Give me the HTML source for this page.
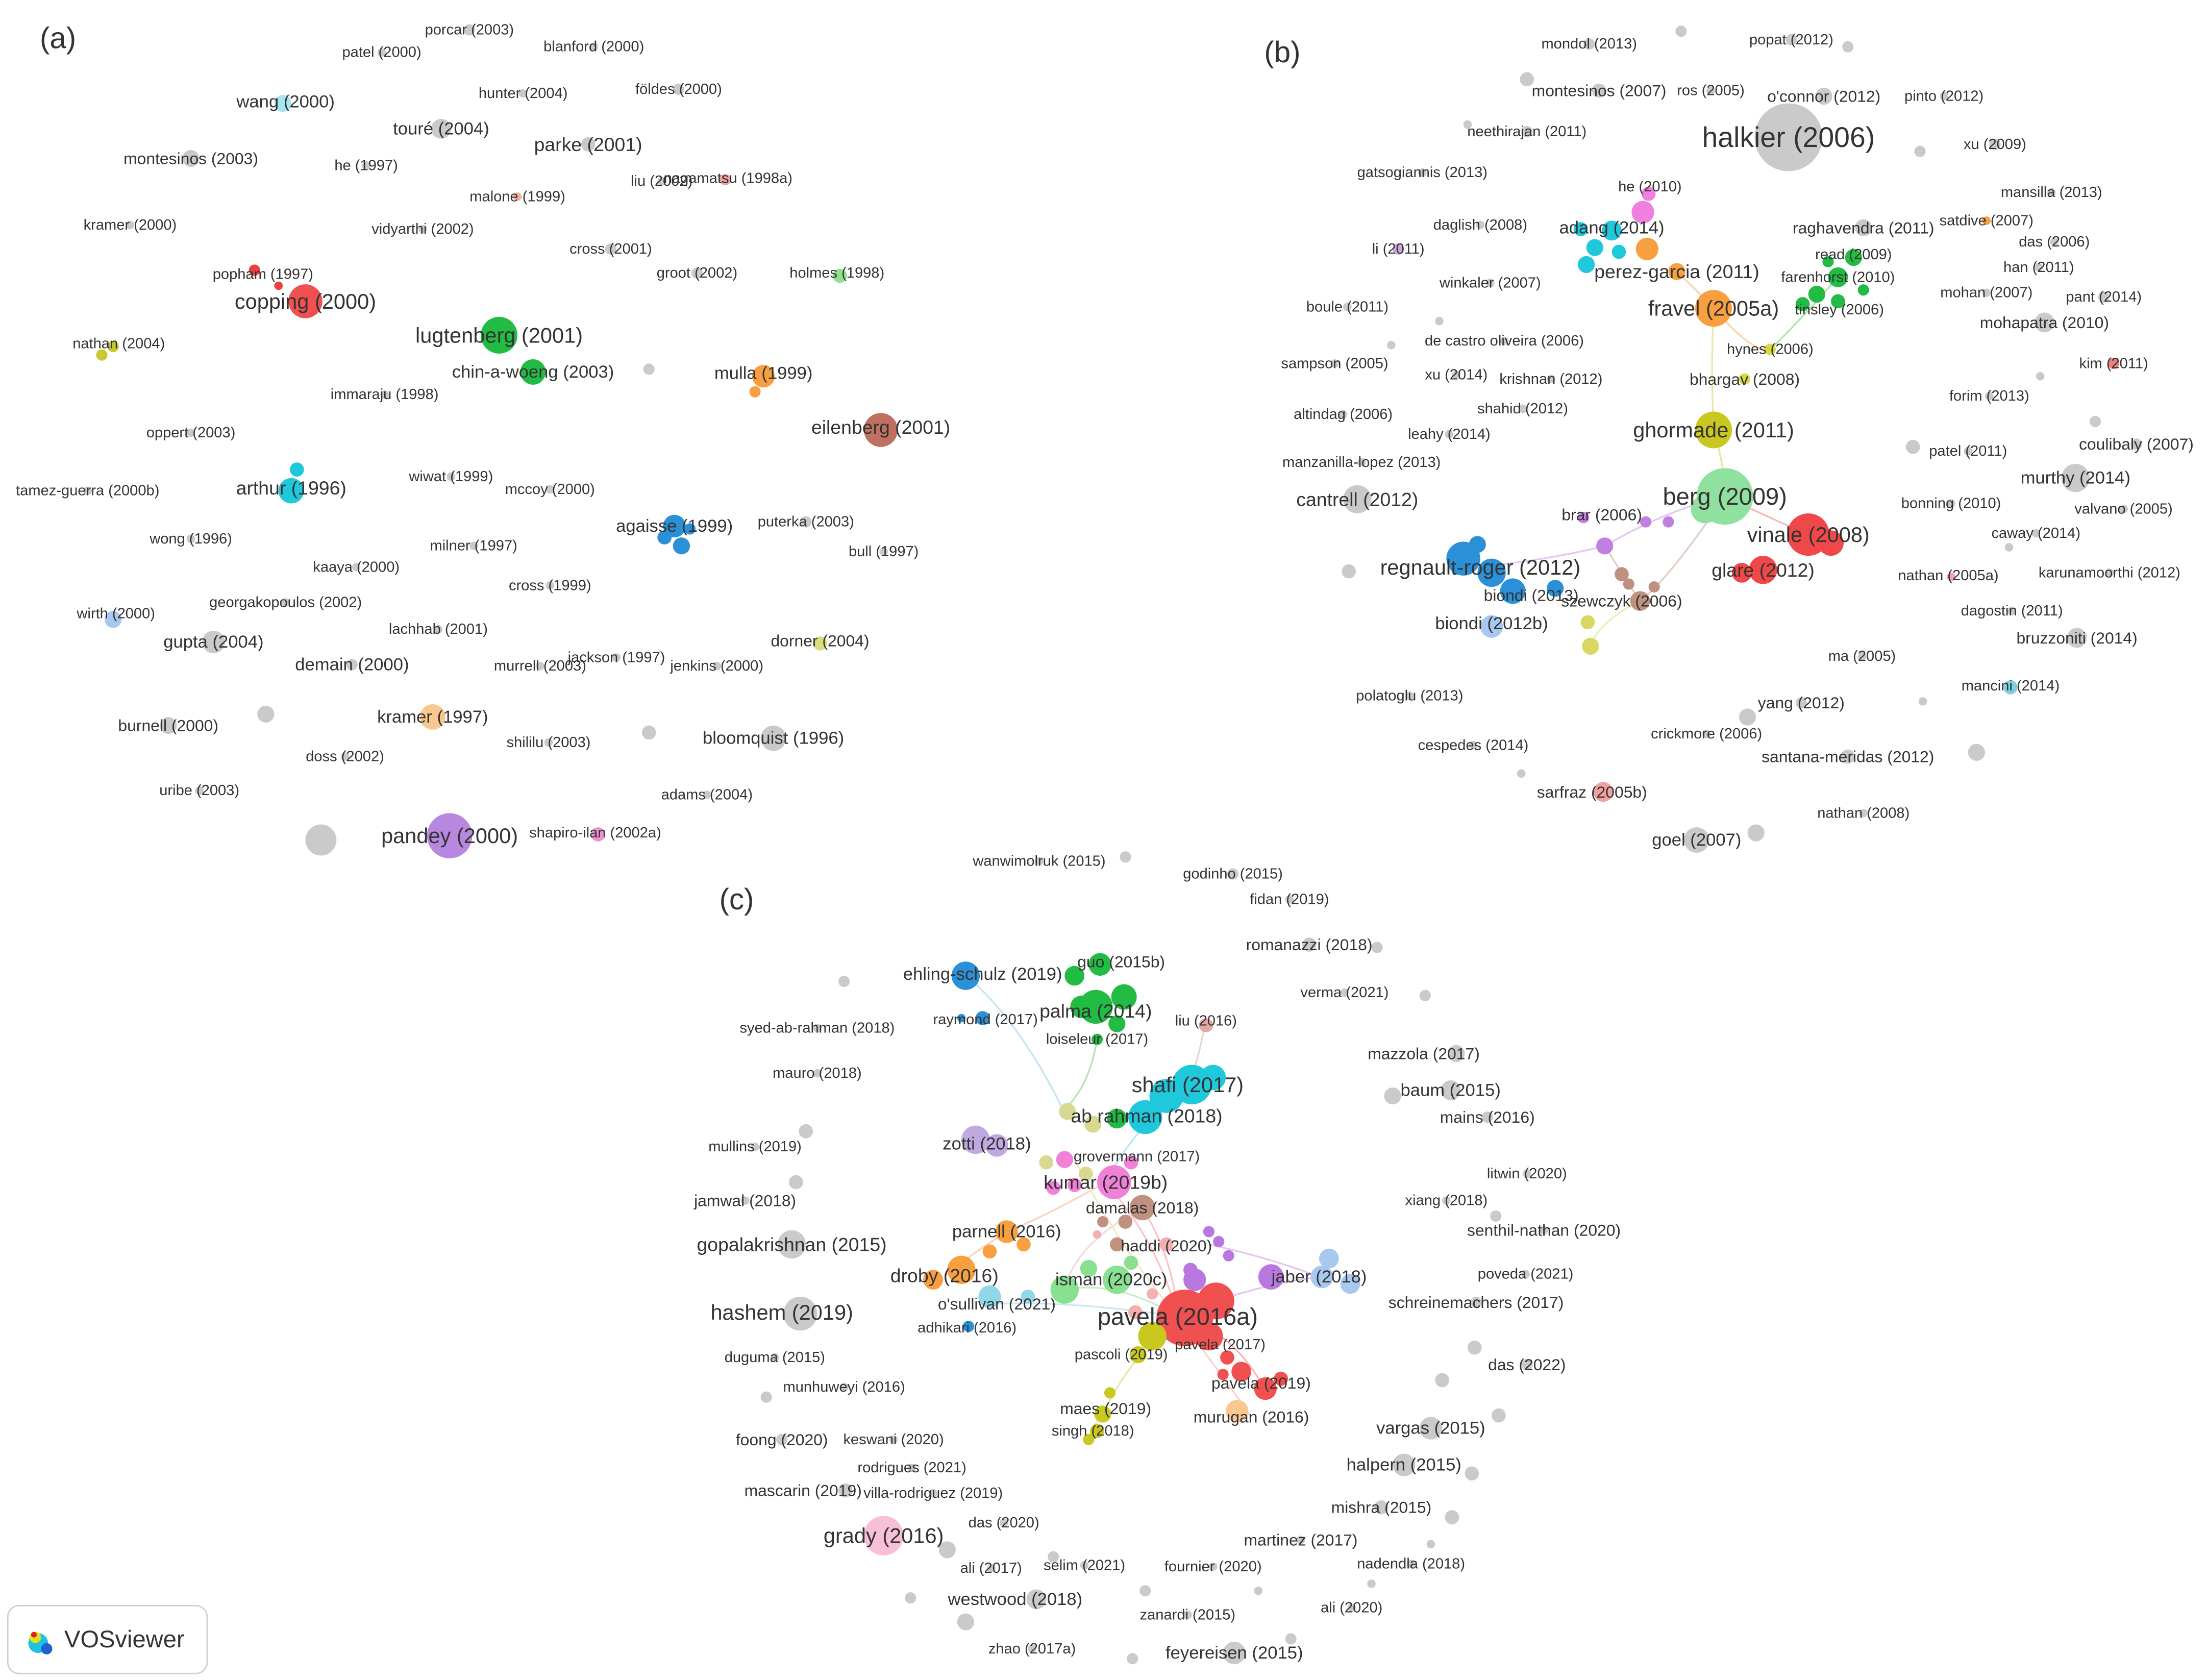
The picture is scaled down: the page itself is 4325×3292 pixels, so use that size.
<!DOCTYPE html>
<html><head><meta charset="utf-8"><style>
html,body{margin:0;padding:0;background:#fff;width:4325px;height:3292px;overflow:hidden}
svg{display:block}
text{font-family:"Liberation Sans",sans-serif;fill:#333;text-anchor:middle;dominant-baseline:central}
</style></head><body>
<svg width="4325" height="3292" viewBox="0 0 1561 1188" xmlns="http://www.w3.org/2000/svg">
<g fill="none" stroke-width="1.2" opacity="0.45">
<path d="M1212,304 Q1220,330 1220,351" stroke="#c8c820"/>
<path d="M1212,218 Q1240,250 1252,247" stroke="#f4a040"/>
<path d="M1212,218 Q1210,260 1212,304" stroke="#d8c840"/>
<path d="M1186,192 Q1200,205 1212,218" stroke="#f4a040"/>
<path d="M1300,196 Q1270,230 1252,247" stroke="#50c050"/>
<path d="M1220,351 Q1180,360 1135,386" stroke="#c080e0"/>
<path d="M1220,351 Q1260,370 1279,378" stroke="#f06060"/>
<path d="M1135,386 Q1100,395 1047,401" stroke="#c080e0"/>
<path d="M1135,386 Q1150,410 1160,425" stroke="#c09080"/>
<path d="M1220,351 Q1180,410 1160,425" stroke="#c09080"/>
<path d="M1160,425 Q1130,440 1125,457" stroke="#d8d860"/>
<path d="M683,690 Q720,720 752,785" stroke="#80c0e0"/>
<path d="M776,735 Q770,770 752,785" stroke="#60c060"/>
<path d="M853,722 Q845,760 840,767" stroke="#d0a090"/>
<path d="M840,767 Q800,800 782,836" stroke="#60d0e0"/>
<path d="M782,836 Q740,860 712,871" stroke="#f0a080"/>
<path d="M712,871 Q690,885 668,902" stroke="#f0a060"/>
<path d="M808,854 Q830,890 833,931" stroke="#f08080"/>
<path d="M782,836 Q820,880 833,931" stroke="#f08080"/>
<path d="M833,931 Q870,940 892,978" stroke="#f06060"/>
<path d="M833,931 Q880,910 933,903" stroke="#c080e0"/>
<path d="M855,880 Q900,890 933,903" stroke="#c080e0"/>
<path d="M833,931 Q800,960 782,996" stroke="#c8c840"/>
<path d="M782,996 Q775,1005 773,1012" stroke="#c8c840"/>
<path d="M705,922 Q760,920 833,931" stroke="#80d0e0"/>
<path d="M753,912 Q790,905 833,931" stroke="#80e080"/>
<path d="M760,820 Q790,880 833,931" stroke="#e0d080"/>
<path d="M833,931 Q870,980 885,1002" stroke="#f0a0a0"/>
<path d="M808,854 Q760,880 753,912" stroke="#e0b0b0"/>
</g>
<!-- gray nodes -->
<g fill="#cacaca">
<circle cx="332" cy="21" r="4"/><circle cx="270" cy="37" r="3"/><circle cx="420" cy="33" r="3"/><circle cx="370" cy="66" r="3"/><circle cx="480" cy="63" r="4"/><circle cx="312" cy="91" r="7"/><circle cx="416" cy="102" r="5"/><circle cx="135" cy="112" r="6"/><circle cx="259" cy="117" r="3"/><circle cx="468" cy="128" r="3"/><circle cx="92" cy="159" r="3"/><circle cx="299" cy="162" r="3"/><circle cx="432" cy="176" r="4"/><circle cx="493" cy="193" r="4"/><circle cx="272" cy="279" r="3"/><circle cx="135" cy="306" r="3"/><circle cx="319" cy="337" r="3"/><circle cx="389" cy="346" r="3"/><circle cx="62" cy="347" r="3"/><circle cx="570" cy="369" r="4"/><circle cx="335" cy="386" r="3"/><circle cx="135" cy="381" r="3"/><circle cx="625" cy="390" r="3"/><circle cx="252" cy="401" r="3"/><circle cx="389" cy="414" r="3"/><circle cx="202" cy="426" r="3"/><circle cx="310" cy="445" r="3"/><circle cx="151" cy="454" r="8"/><circle cx="249" cy="470" r="4"/><circle cx="382" cy="471" r="3"/><circle cx="436" cy="465" r="3"/><circle cx="507" cy="471" r="3"/><circle cx="119" cy="513" r="6"/><circle cx="388" cy="525" r="3"/><circle cx="547" cy="522" r="9"/><circle cx="244" cy="535" r="3"/><circle cx="141" cy="559" r="3"/><circle cx="500" cy="562" r="3"/>
<circle cx="188" cy="505" r="6"/><circle cx="459" cy="261" r="4"/><circle cx="459" cy="518" r="5"/><circle cx="227" cy="594" r="11"/>
<circle cx="1124" cy="31" r="4"/><circle cx="1267" cy="28" r="4"/><circle cx="1131" cy="64" r="5"/><circle cx="1210" cy="64" r="3"/><circle cx="1290" cy="68" r="6"/><circle cx="1375" cy="68" r="3"/><circle cx="1265" cy="97" r="24"/><circle cx="1080" cy="93" r="4"/><circle cx="1411" cy="102" r="4"/><circle cx="1006" cy="122" r="3"/><circle cx="1451" cy="136" r="3"/><circle cx="1047" cy="159" r="3"/><circle cx="1318" cy="161" r="6"/><circle cx="1453" cy="171" r="3"/><circle cx="1442" cy="189" r="3"/><circle cx="1054" cy="200" r="3"/><circle cx="1405" cy="207" r="3"/><circle cx="1488" cy="210" r="4"/><circle cx="953" cy="217" r="3"/><circle cx="1446" cy="228" r="7"/><circle cx="1064" cy="241" r="3"/><circle cx="944" cy="257" r="3"/><circle cx="1030" cy="265" r="3"/><circle cx="1097" cy="268" r="3"/><circle cx="1407" cy="280" r="3"/><circle cx="1077" cy="289" r="3"/><circle cx="950" cy="293" r="3"/><circle cx="1511" cy="314" r="4"/><circle cx="1025" cy="307" r="3"/><circle cx="1392" cy="319" r="3"/><circle cx="963" cy="327" r="3"/><circle cx="1468" cy="338" r="10"/><circle cx="960" cy="353" r="10"/><circle cx="1380" cy="356" r="3"/><circle cx="1502" cy="360" r="3"/><circle cx="1440" cy="377" r="3"/><circle cx="1492" cy="405" r="3"/><circle cx="1423" cy="432" r="3"/><circle cx="1469" cy="451" r="7"/><circle cx="1317" cy="464" r="3"/><circle cx="997" cy="492" r="3"/><circle cx="1274" cy="497" r="4"/><circle cx="1207" cy="519" r="3"/><circle cx="1042" cy="527" r="3"/><circle cx="1307" cy="535" r="5"/><circle cx="1318" cy="575" r="3"/><circle cx="1200" cy="594" r="9"/>
<circle cx="1189" cy="22" r="4"/><circle cx="1307" cy="33" r="4"/><circle cx="1080" cy="56" r="5"/><circle cx="1358" cy="107" r="4"/><circle cx="1038" cy="88" r="3"/><circle cx="1018" cy="227" r="3"/><circle cx="984" cy="244" r="3"/><circle cx="1482" cy="298" r="4"/><circle cx="1353" cy="316" r="5"/><circle cx="954" cy="404" r="5"/><circle cx="1398" cy="532" r="6"/><circle cx="1242" cy="589" r="6"/><circle cx="1236" cy="507" r="6"/><circle cx="1443" cy="266" r="3"/><circle cx="1421" cy="387" r="3"/><circle cx="1360" cy="496" r="3"/><circle cx="1076" cy="547" r="3"/>
<circle cx="735" cy="609" r="3"/><circle cx="872" cy="618" r="4"/><circle cx="912" cy="636" r="3"/><circle cx="926" cy="668" r="5"/><circle cx="951" cy="702" r="3"/><circle cx="578" cy="727" r="3"/><circle cx="1030" cy="745" r="6"/><circle cx="578" cy="759" r="3"/><circle cx="1026" cy="771" r="7"/><circle cx="1052" cy="790" r="4"/><circle cx="534" cy="811" r="3"/><circle cx="1080" cy="830" r="3"/><circle cx="527" cy="849" r="3"/><circle cx="1023" cy="849" r="3"/><circle cx="1092" cy="870" r="3"/><circle cx="560" cy="880" r="10"/><circle cx="1079" cy="901" r="3"/><circle cx="1044" cy="921" r="4"/><circle cx="566" cy="929" r="12"/><circle cx="548" cy="960" r="3"/><circle cx="1080" cy="965" r="4"/><circle cx="597" cy="981" r="3"/><circle cx="1012" cy="1010" r="8"/><circle cx="553" cy="1018" r="4"/><circle cx="632" cy="1018" r="3"/><circle cx="993" cy="1036" r="8"/><circle cx="645" cy="1038" r="3"/><circle cx="598" cy="1054" r="5"/><circle cx="660" cy="1056" r="3"/><circle cx="977" cy="1066" r="5"/><circle cx="710" cy="1077" r="3"/><circle cx="920" cy="1089" r="3"/><circle cx="701" cy="1109" r="3"/><circle cx="767" cy="1107" r="3"/><circle cx="858" cy="1108" r="3"/><circle cx="998" cy="1106" r="3"/><circle cx="733" cy="1131" r="7"/><circle cx="956" cy="1137" r="3"/><circle cx="840" cy="1142" r="3"/><circle cx="730" cy="1166" r="3"/><circle cx="873" cy="1169" r="8"/>
<circle cx="796" cy="606" r="4"/><circle cx="974" cy="670" r="4"/><circle cx="1008" cy="704" r="4"/><circle cx="597" cy="694" r="4"/><circle cx="570" cy="800" r="5"/><circle cx="563" cy="836" r="5"/><circle cx="985" cy="775" r="6"/><circle cx="1058" cy="860" r="4"/><circle cx="1043" cy="953" r="5"/><circle cx="1020" cy="976" r="5"/><circle cx="1060" cy="1001" r="5"/><circle cx="1041" cy="1042" r="5"/><circle cx="1027" cy="1073" r="5"/><circle cx="1012" cy="1092" r="3"/><circle cx="542" cy="988" r="4"/><circle cx="644" cy="1130" r="4"/><circle cx="670" cy="1096" r="6"/><circle cx="683" cy="1147" r="6"/><circle cx="745" cy="1101" r="4"/><circle cx="801" cy="1173" r="4"/><circle cx="913" cy="1159" r="4"/><circle cx="810" cy="1125" r="4"/><circle cx="890" cy="1125" r="3"/><circle cx="970" cy="1120" r="3"/>
</g>
<!-- colored nodes -->
<g>
<circle cx="200" cy="73" r="6" fill="#a8e4f0"/><circle cx="513" cy="127" r="4" fill="#f4a0a0"/><circle cx="366" cy="139" r="3" fill="#f4b0a0"/>
<circle cx="180" cy="191" r="4" fill="#ee4040"/><circle cx="197" cy="202" r="3" fill="#ee4040"/><circle cx="216" cy="213" r="12" fill="#f05050"/>
<circle cx="353" cy="237" r="13" fill="#22bb44"/><circle cx="377" cy="263" r="9" fill="#22bb44"/><circle cx="594" cy="195" r="5" fill="#90e090"/>
<circle cx="72" cy="251" r="4" fill="#c8c830"/><circle cx="80" cy="245" r="4" fill="#c8c830"/>
<circle cx="540" cy="266" r="8" fill="#f8a040"/><circle cx="534" cy="277" r="4" fill="#f8a040"/>
<circle cx="623" cy="304" r="12" fill="#c07060"/>
<circle cx="206" cy="347" r="9" fill="#20c8dc"/><circle cx="210" cy="332" r="5" fill="#20c8dc"/>
<circle cx="477" cy="372" r="8" fill="#2a90d8"/><circle cx="482" cy="386" r="6" fill="#2a90d8"/><circle cx="470" cy="380" r="5" fill="#2a90d8"/><circle cx="488" cy="374" r="4" fill="#2a90d8"/>
<circle cx="80" cy="438" r="6" fill="#a8c8f0"/><circle cx="580" cy="455" r="5" fill="#dcdc80"/><circle cx="306" cy="507" r="9" fill="#f8c890"/>
<circle cx="318" cy="591" r="16" fill="#b888e0"/><circle cx="423" cy="590" r="5" fill="#f090d0"/>
<circle cx="1162" cy="150" r="8" fill="#f080e0"/><circle cx="1166" cy="137" r="5" fill="#f080e0"/>
<circle cx="1140" cy="163" r="7" fill="#20c8dc"/><circle cx="1128" cy="175" r="6" fill="#20c8dc"/><circle cx="1122" cy="187" r="6" fill="#20c8dc"/><circle cx="1145" cy="178" r="5" fill="#20c8dc"/><circle cx="1118" cy="162" r="5" fill="#20c8dc"/>
<circle cx="1405" cy="156" r="3" fill="#f8a040"/><circle cx="989" cy="176" r="4" fill="#c8a8e0"/>
<circle cx="1165" cy="176" r="8" fill="#f8a040"/><circle cx="1212" cy="218" r="13" fill="#f8a040"/><circle cx="1186" cy="192" r="6" fill="#f8a040"/>
<circle cx="1300" cy="196" r="7" fill="#22bb44"/><circle cx="1311" cy="182" r="6" fill="#22bb44"/><circle cx="1285" cy="208" r="6" fill="#22bb44"/><circle cx="1300" cy="213" r="5" fill="#22bb44"/><circle cx="1275" cy="215" r="5" fill="#22bb44"/><circle cx="1318" cy="205" r="4" fill="#22bb44"/><circle cx="1293" cy="185" r="4" fill="#22bb44"/>
<circle cx="1252" cy="247" r="4" fill="#d8d840"/><circle cx="1234" cy="268" r="4" fill="#d8d840"/><circle cx="1495" cy="257" r="4" fill="#f08080"/>
<circle cx="1212" cy="304" r="13" fill="#c8c820"/>
<circle cx="1220" cy="351" r="20" fill="#90e0a0"/><circle cx="1206" cy="360" r="10" fill="#90e0a0"/>
<circle cx="1279" cy="378" r="15" fill="#f04848"/><circle cx="1295" cy="384" r="9" fill="#f04848"/>
<circle cx="1247" cy="403" r="10" fill="#f04848"/><circle cx="1232" cy="405" r="7" fill="#f04848"/>
<circle cx="1035" cy="395" r="12" fill="#2a90d8"/><circle cx="1055" cy="405" r="10" fill="#2a90d8"/><circle cx="1070" cy="418" r="9" fill="#2a90d8"/><circle cx="1100" cy="416" r="6" fill="#2a90d8"/><circle cx="1045" cy="385" r="6" fill="#2a90d8"/>
<circle cx="1055" cy="443" r="8" fill="#a8c8f0"/>
<circle cx="1135" cy="386" r="6" fill="#c080e0"/><circle cx="1164" cy="369" r="4" fill="#c080e0"/><circle cx="1180" cy="369" r="4" fill="#c080e0"/><circle cx="1120" cy="366" r="4" fill="#c080e0"/>
<circle cx="1147" cy="406" r="5" fill="#c09080"/><circle cx="1160" cy="425" r="7" fill="#c09080"/><circle cx="1152" cy="413" r="4" fill="#c09080"/><circle cx="1170" cy="415" r="4" fill="#c09080"/>
<circle cx="1123" cy="440" r="5" fill="#d8d860"/><circle cx="1125" cy="457" r="6" fill="#d8d860"/>
<circle cx="1380" cy="408" r="3" fill="#f0a0c0"/><circle cx="1422" cy="486" r="5" fill="#80d0e0"/><circle cx="1134" cy="560" r="7" fill="#f4a0a0"/>
<circle cx="683" cy="690" r="10" fill="#2a90d8"/><circle cx="695" cy="720" r="5" fill="#2a90d8"/><circle cx="680" cy="720" r="3" fill="#2a90d8"/>
<circle cx="778" cy="682" r="8" fill="#22bb44"/><circle cx="760" cy="690" r="7" fill="#22bb44"/><circle cx="775" cy="712" r="12" fill="#22bb44"/><circle cx="795" cy="705" r="9" fill="#22bb44"/><circle cx="765" cy="712" r="8" fill="#22bb44"/><circle cx="776" cy="735" r="4" fill="#22bb44"/><circle cx="790" cy="724" r="6" fill="#22bb44"/>
<circle cx="853" cy="725" r="5" fill="#e0a8a0"/>
<circle cx="843" cy="767" r="14" fill="#20c8dc"/><circle cx="825" cy="775" r="12" fill="#20c8dc"/><circle cx="810" cy="790" r="12" fill="#20c8dc"/><circle cx="858" cy="762" r="9" fill="#20c8dc"/>
<circle cx="790" cy="791" r="7" fill="#22bb44"/><circle cx="773" cy="795" r="6" fill="#d8d890"/><circle cx="755" cy="786" r="6" fill="#d8d890"/>
<circle cx="690" cy="806" r="10" fill="#c0a8e0"/><circle cx="705" cy="810" r="8" fill="#c0a8e0"/>
<circle cx="753" cy="820" r="6" fill="#f080d8"/><circle cx="768" cy="830" r="5" fill="#d8d890"/><circle cx="740" cy="822" r="5" fill="#d8d890"/>
<circle cx="788" cy="836" r="12" fill="#f080d8"/><circle cx="760" cy="838" r="5" fill="#f080d8"/><circle cx="745" cy="840" r="5" fill="#f080d8"/><circle cx="800" cy="822" r="5" fill="#f080d8"/>
<circle cx="808" cy="854" r="9" fill="#c09080"/><circle cx="796" cy="864" r="5" fill="#c09080"/><circle cx="780" cy="864" r="4" fill="#c09080"/><circle cx="790" cy="880" r="5" fill="#c09080"/><circle cx="776" cy="873" r="3" fill="#f4b0b0"/>
<circle cx="712" cy="871" r="8" fill="#f8a040"/><circle cx="700" cy="885" r="5" fill="#f8a040"/><circle cx="724" cy="880" r="5" fill="#f8a040"/>
<circle cx="680" cy="898" r="10" fill="#f8a040"/><circle cx="660" cy="905" r="7" fill="#f8a040"/>
<circle cx="825" cy="880" r="5" fill="#f4b0b0"/><circle cx="855" cy="871" r="4" fill="#b878e0"/><circle cx="862" cy="878" r="4" fill="#b878e0"/><circle cx="869" cy="888" r="4" fill="#b878e0"/><circle cx="845" cy="905" r="8" fill="#b878e0"/><circle cx="842" cy="898" r="5" fill="#b878e0"/>
<circle cx="899" cy="903" r="9" fill="#b878e0"/><circle cx="940" cy="890" r="7" fill="#a8c8f0"/><circle cx="935" cy="903" r="8" fill="#a8c8f0"/><circle cx="955" cy="908" r="7" fill="#a8c8f0"/>
<circle cx="753" cy="912" r="10" fill="#88e090"/><circle cx="790" cy="905" r="10" fill="#88e090"/><circle cx="770" cy="897" r="6" fill="#88e090"/><circle cx="800" cy="893" r="5" fill="#88e090"/>
<circle cx="700" cy="917" r="8" fill="#90d8e8"/><circle cx="727" cy="917" r="5" fill="#90d8e8"/><circle cx="685" cy="938" r="4" fill="#2a90d8"/>
<circle cx="815" cy="915" r="4" fill="#f4b0b0"/><circle cx="803" cy="928" r="5" fill="#f4b0b0"/>
<circle cx="838" cy="932" r="20" fill="#f05050"/><circle cx="860" cy="920" r="13" fill="#f05050"/><circle cx="855" cy="945" r="10" fill="#f05050"/>
<circle cx="815" cy="945" r="10" fill="#c8c820"/><circle cx="805" cy="958" r="6" fill="#c8c820"/>
<circle cx="868" cy="960" r="5" fill="#f05050"/><circle cx="878" cy="970" r="7" fill="#f05050"/><circle cx="865" cy="972" r="4" fill="#f05050"/><circle cx="895" cy="982" r="8" fill="#f05050"/><circle cx="906" cy="975" r="5" fill="#f05050"/>
<circle cx="875" cy="998" r="8" fill="#f8c890"/>
<circle cx="785" cy="985" r="4" fill="#c8c820"/><circle cx="780" cy="1000" r="6" fill="#c8c820"/><circle cx="776" cy="1012" r="5" fill="#c8c820"/><circle cx="770" cy="1018" r="4" fill="#c8c820"/>
<circle cx="625" cy="1086" r="14" fill="#f8c0d8"/>
</g>
<g font-size="10.5">
<text x="332" y="21">porcar (2003)</text><text x="270" y="37">patel (2000)</text><text x="420" y="33">blanford (2000)</text><text x="370" y="66">hunter (2004)</text><text x="480" y="63">földes (2000)</text><text x="259" y="117">he (1997)</text><text x="366" y="139">malone (1999)</text><text x="468" y="128">liu (2002)</text><text x="515" y="126">nagamatsu (1998a)</text><text x="92" y="159">kramer (2000)</text><text x="299" y="162">vidyarthi (2002)</text><text x="432" y="176">cross (2001)</text><text x="493" y="193">groot (2002)</text><text x="592" y="193">holmes (1998)</text><text x="186" y="194">popham (1997)</text><text x="84" y="243">nathan (2004)</text><text x="272" y="279">immaraju (1998)</text><text x="135" y="306">oppert (2003)</text><text x="319" y="337">wiwat (1999)</text><text x="389" y="346">mccoy (2000)</text><text x="62" y="347">tamez-guerra (2000b)</text><text x="570" y="369">puterka (2003)</text><text x="335" y="386">milner (1997)</text><text x="135" y="381">wong (1996)</text><text x="625" y="390">bull (1997)</text><text x="252" y="401">kaaya (2000)</text><text x="389" y="414">cross (1999)</text><text x="202" y="426">georgakopoulos (2002)</text><text x="82" y="434">wirth (2000)</text><text x="310" y="445">lachhab (2001)</text><text x="382" y="471">murrell (2003)</text><text x="436" y="465">jackson (1997)</text><text x="507" y="471">jenkins (2000)</text><text x="388" y="525">shililu (2003)</text><text x="244" y="535">doss (2002)</text><text x="141" y="559">uribe (2003)</text><text x="500" y="562">adams (2004)</text><text x="421" y="589">shapiro-ilan (2002a)</text>
<text x="1124" y="31">mondol (2013)</text><text x="1267" y="28">popat (2012)</text><text x="1210" y="64">ros (2005)</text><text x="1375" y="68">pinto (2012)</text><text x="1080" y="93">neethirajan (2011)</text><text x="1411" y="102">xu (2009)</text><text x="1006" y="122">gatsogiannis (2013)</text><text x="1451" y="136">mansilla (2013)</text><text x="1167" y="132">he (2010)</text><text x="1047" y="159">daglish (2008)</text><text x="1405" y="156">satdive (2007)</text><text x="1453" y="171">das (2006)</text><text x="989" y="176">li (2011)</text><text x="1311" y="180">read (2009)</text><text x="1442" y="189">han (2011)</text><text x="1300" y="196">farenhorst (2010)</text><text x="1054" y="200">winkaler (2007)</text><text x="1405" y="207">mohan (2007)</text><text x="1488" y="210">pant (2014)</text><text x="1301" y="219">tinsley (2006)</text><text x="953" y="217">boule (2011)</text><text x="1064" y="241">de castro oliveira (2006)</text><text x="1252" y="247">hynes (2006)</text><text x="944" y="257">sampson (2005)</text><text x="1495" y="257">kim (2011)</text><text x="1030" y="265">xu (2014)</text><text x="1097" y="268">krishnan (2012)</text><text x="1407" y="280">forim (2013)</text><text x="1077" y="289">shahid (2012)</text><text x="950" y="293">altindag (2006)</text><text x="1025" y="307">leahy (2014)</text><text x="1392" y="319">patel (2011)</text><text x="963" y="327">manzanilla-lopez (2013)</text><text x="1380" y="356">bonning (2010)</text><text x="1502" y="360">valvano (2005)</text><text x="1440" y="377">caway (2014)</text><text x="1378" y="407">nathan (2005a)</text><text x="1492" y="405">karunamoorthi (2012)</text><text x="1423" y="432">dagostin (2011)</text><text x="1317" y="464">ma (2005)</text><text x="1422" y="485">mancini (2014)</text><text x="997" y="492">polatoglu (2013)</text><text x="1207" y="519">crickmore (2006)</text><text x="1042" y="527">cespedes (2014)</text><text x="1318" y="575">nathan (2008)</text>
<text x="735" y="609">wanwimolruk (2015)</text><text x="872" y="618">godinho (2015)</text><text x="912" y="636">fidan (2019)</text><text x="951" y="702">verma (2021)</text><text x="578" y="727">syed-ab-rahman (2018)</text><text x="697" y="721">raymond (2017)</text><text x="853" y="722">liu (2016)</text><text x="776" y="735">loiseleur (2017)</text><text x="578" y="759">mauro (2018)</text><text x="534" y="811">mullins (2019)</text><text x="804" y="818">grovermann (2017)</text><text x="1080" y="830">litwin (2020)</text><text x="1023" y="849">xiang (2018)</text><text x="1079" y="901">poveda (2021)</text><text x="684" y="939">adhikari (2016)</text><text x="863" y="951">pavela (2017)</text><text x="548" y="960">duguma (2015)</text><text x="793" y="958">pascoli (2019)</text><text x="597" y="981">munhuweyi (2016)</text><text x="773" y="1012">singh (2018)</text><text x="632" y="1018">keswani (2020)</text><text x="645" y="1038">rodrigues (2021)</text><text x="660" y="1056">villa-rodriguez (2019)</text><text x="710" y="1077">das (2020)</text><text x="701" y="1109">ali (2017)</text><text x="767" y="1107">selim (2021)</text><text x="858" y="1108">fournier (2020)</text><text x="998" y="1106">nadendla (2018)</text><text x="956" y="1137">ali (2020)</text><text x="840" y="1142">zanardi (2015)</text><text x="730" y="1166">zhao (2017a)</text>
</g>
<g font-size="11.5">
<text x="135" y="112">montesinos (2003)</text><text x="119" y="513">burnell (2000)</text><text x="580" y="453">dorner (2004)</text>
<text x="1131" y="64">montesinos (2007)</text><text x="1290" y="68">o'connor (2012)</text><text x="1318" y="161">raghavendra (2011)</text><text x="1446" y="228">mohapatra (2010)</text><text x="1234" y="268">bhargav (2008)</text><text x="1511" y="314">coulibaly (2007)</text><text x="1133" y="364">brar (2006)</text><text x="1083" y="421">biondi (2013)</text><text x="1147" y="425">szewczyk (2006)</text><text x="1469" y="451">bruzzoniti (2014)</text><text x="1274" y="497">yang (2012)</text><text x="1307" y="535">santana-meridas (2012)</text><text x="1126" y="560">sarfraz (2005b)</text>
<text x="926" y="668">romanazzi (2018)</text><text x="793" y="680">guo (2015b)</text><text x="1007" y="745">mazzola (2017)</text><text x="1052" y="790">mains (2016)</text><text x="527" y="849">jamwal (2018)</text><text x="808" y="854">damalas (2018)</text><text x="1092" y="870">senthil-nathan (2020)</text><text x="825" y="881">haddi (2020)</text><text x="1044" y="921">schreinemachers (2017)</text><text x="705" y="922">o'sullivan (2021)</text><text x="1080" y="965">das (2022)</text><text x="892" y="978">pavela (2019)</text><text x="782" y="996">maes (2019)</text><text x="885" y="1002">murugan (2016)</text><text x="553" y="1018">foong (2020)</text><text x="568" y="1054">mascarin (2019)</text><text x="977" y="1066">mishra (2015)</text><text x="920" y="1089">martinez (2017)</text>
</g>
<g font-size="12.5">
<text x="202" y="72">wang (2000)</text><text x="312" y="91">touré (2004)</text><text x="377" y="263">chin-a-woeng (2003)</text><text x="540" y="264">mulla (1999)</text><text x="477" y="372">agaisse (1999)</text><text x="151" y="454">gupta (2004)</text><text x="249" y="470">demain (2000)</text><text x="306" y="507">kramer (1997)</text><text x="547" y="522">bloomquist (1996)</text>
<text x="1140" y="161">adang (2014)</text><text x="1468" y="338">murthy (2014)</text><text x="1055" y="441">biondi (2012b)</text><text x="1200" y="594">goel (2007)</text>
<text x="695" y="689">ehling-schulz (2019)</text><text x="1026" y="771">baum (2015)</text><text x="698" y="809">zotti (2018)</text><text x="712" y="871">parnell (2016)</text><text x="933" y="903">jaber (2018)</text><text x="786" y="905">isman (2020c)</text><text x="1012" y="1010">vargas (2015)</text><text x="993" y="1036">halpern (2015)</text><text x="718" y="1131">westwood (2018)</text><text x="873" y="1169">feyereisen (2015)</text>
</g>
<g font-size="13.5">
<text x="416" y="102">parke (2001)</text><text x="206" y="345">arthur (1996)</text><text x="623" y="302">eilenberg (2001)</text>
<text x="1186" y="192">perez-garcia (2011)</text><text x="960" y="353">cantrell (2012)</text><text x="1247" y="403">glare (2012)</text>
<text x="775" y="715">palma (2014)</text><text x="811" y="789">ab rahman (2018)</text><text x="782" y="836">kumar (2019b)</text><text x="560" y="880">gopalakrishnan (2015)</text><text x="668" y="902">droby (2016)</text>
</g>
<g font-size="15">
<text x="216" y="213">copping (2000)</text><text x="353" y="237">lugtenberg (2001)</text><text x="318" y="591">pandey (2000)</text>
<text x="1212" y="218">fravel (2005a)</text><text x="1212" y="304">ghormade (2011)</text><text x="1279" y="378">vinale (2008)</text><text x="1047" y="401">regnault-roger (2012)</text>
<text x="840" y="767">shafi (2017)</text><text x="553" y="928">hashem (2019)</text><text x="625" y="1086">grady (2016)</text>
</g>
<g font-size="17"><text x="1220" y="351">berg (2009)</text><text x="833" y="931">pavela (2016a)</text></g>
<text x="1265" y="97" font-size="20">halkier (2006)</text>
<g font-size="21" style="fill:#111"><text x="41" y="27">(a)</text><text x="907" y="37">(b)</text><text x="521" y="636">(c)</text></g>
<rect x="5.5" y="1135.5" width="141" height="48" rx="8" fill="#fff" stroke="#cfcfcf"/>
<g><circle cx="27" cy="1162" r="7" fill="#20c0e0"/><circle cx="25" cy="1158" r="4" fill="#e0e020"/><circle cx="24" cy="1156" r="2" fill="#e02020"/><circle cx="33" cy="1166" r="4" fill="#2060d0"/></g>
<text x="88" y="1159" font-size="17">VOSviewer</text>
</svg>
</body></html>
